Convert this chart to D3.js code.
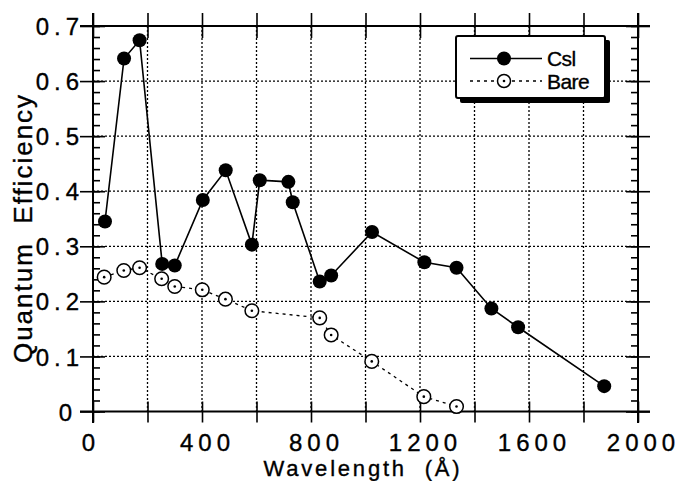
<!DOCTYPE html>
<html><head><meta charset="utf-8">
<script src="https://cdn.jsdelivr.net/npm/d3@7"></script>
<style>
html,body{margin:0;padding:0;background:#fff;}
svg text{font-family:"Liberation Sans",Arial,Helvetica,sans-serif;fill:#000;stroke:#000;stroke-width:0.35px;}
</style></head>
<body><svg id="c" width="679" height="481"></svg>
<script>
const csiWave = [44,114,171,254,300,403,487,583,612,717,733,832,874,1024,1216,1334,1462,1560,1876];
const csiQE   = [0.345,0.641,0.674,0.268,0.265,0.384,0.438,0.303,0.420,0.417,0.380,0.236,0.247,0.326,0.271,0.261,0.187,0.153,0.046];
const bareWave = [41,113,171,252,300,401,486,583,832,874,1023,1214,1334];
const bareQE   = [0.244,0.256,0.261,0.241,0.227,0.221,0.204,0.183,0.170,0.139,0.091,0.027,0.009];
const xTickLabels = [0,400,800,1200,1600,2000];
const xMajorTicks = [0,200,400,600,800,1000,1200,1400,1600,1800,2000];
const yTickLabels = [0,0.1,0.2,0.3,0.4,0.5,0.6,0.7];
const seriesNames = ["Csl","Bare"];

const svg = d3.select("#c");
const L=93,R=638,T=26,B=411.5;
const x = d3.scaleLinear().domain([0,2000]).range([L,R]);
const y = d3.scaleLinear().domain([0,0.7]).range([B,T]);

// gridlines
const grid = svg.append("g").attr("stroke","#000").attr("stroke-width",1.3).attr("stroke-dasharray","2,2");
xMajorTicks.filter(v=>v>0&&v<2000).forEach(v=>{
  grid.append("line").attr("x1",x(v)).attr("x2",x(v)).attr("y1",T).attr("y2",B);
});
yTickLabels.filter(v=>v>0&&v<0.7).forEach(v=>{
  grid.append("line").attr("x1",L).attr("x2",R).attr("y1",y(v)).attr("y2",y(v));
});

const minorY = d3.range(0,0.7001,0.02);
function styleAxis(g){
  g.select(".domain").remove();
  g.selectAll("line").attr("stroke","#000").attr("stroke-width",1.6);
}
// left axis
svg.append("g").attr("transform",`translate(${L},0)`)
  .call(d3.axisLeft(y).tickValues(yTickLabels).tickSize(13).tickPadding(2).tickFormat(d=>d===0?"0":d3.format(".1f")(d)))
  .call(g=>{styleAxis(g);
    g.selectAll(".tick line").attr("x2",-13).attr("x1",12);
    g.selectAll("text").attr("font-size",24).attr("letter-spacing",5).attr("x",d=>d===0?-16:-9).attr("fill","#000").attr("dy","0.36em");
  });
svg.append("g").attr("transform",`translate(${L},0)`)
  .call(d3.axisRight(y).tickValues(minorY).tickSize(7).tickFormat(""))
  .call(styleAxis);
// right axis
svg.append("g").attr("transform",`translate(${R},0)`)
  .call(d3.axisRight(y).tickValues(yTickLabels).tickSize(12).tickFormat(""))
  .call(g=>{styleAxis(g); g.selectAll(".tick line").attr("x1",-12);});
svg.append("g").attr("transform",`translate(${R},0)`)
  .call(d3.axisLeft(y).tickValues(minorY).tickSize(7).tickFormat(""))
  .call(styleAxis);
// bottom axis
svg.append("g").attr("transform",`translate(0,${B})`)
  .call(d3.axisBottom(x).tickValues(xMajorTicks).tickSize(11).tickFormat(""))
  .call(g=>{styleAxis(g); g.selectAll(".tick line").attr("y1",-10);});
svg.append("g").attr("transform",`translate(0,${B})`)
  .call(d3.axisBottom(x).tickValues(xTickLabels).tickSize(0).tickPadding(22.5).tickFormat(d3.format("d")))
  .call(g=>{g.select(".domain").remove();
    g.selectAll("text").attr("font-size",24).attr("letter-spacing",5).attr("dx",d=>d===0?"-2.5":"5").attr("fill","#000");
  });
// top axis
svg.append("g").attr("transform",`translate(0,${T})`)
  .call(d3.axisTop(x).tickValues(xMajorTicks).tickSize(13).tickFormat(""))
  .call(g=>{styleAxis(g); g.selectAll(".tick line").attr("y1",12);});

// frame lines
const fr = svg.append("g").attr("stroke","#000").attr("stroke-width",2);
fr.append("line").attr("x1",80).attr("x2",650).attr("y1",T).attr("y2",T);
fr.append("line").attr("x1",80).attr("x2",650).attr("y1",B).attr("y2",B);
fr.append("line").attr("x1",L).attr("x2",L).attr("y1",13).attr("y2",423);
fr.append("line").attr("x1",R).attr("x2",R).attr("y1",13).attr("y2",423);

// axis titles
svg.append("text").attr("transform","translate(32,228) rotate(-90)")
  .attr("text-anchor","middle").attr("font-size",26).attr("letter-spacing",2)
  .style("white-space","pre").text("Quantum  Efficiency");
svg.append("text").attr("x",363).attr("y",475.5).attr("text-anchor","middle")
  .attr("font-size",22).attr("letter-spacing",2.8).style("white-space","pre").text("Wavelength  (Å)");

// series
const csi = csiWave.map((w,i)=>[w,csiQE[i]]);
const bare = bareWave.map((w,i)=>[w,bareQE[i]]);
const line = d3.line().x(d=>x(d[0])).y(d=>y(d[1]));
svg.append("path").datum(bare).attr("d",line).attr("fill","none").attr("stroke","#000").attr("stroke-width",1.3).attr("stroke-dasharray","3,4");
svg.append("path").datum(csi).attr("d",line).attr("fill","none").attr("stroke","#000").attr("stroke-width",1.6);
const bg = svg.append("g").selectAll("g").data(bare).join("g").attr("transform",d=>`translate(${x(d[0])},${y(d[1])})`);
bg.append("circle").attr("r",6.8).attr("fill","#fff").attr("stroke","#000").attr("stroke-width",1.5);
bg.append("circle").attr("r",1.3).attr("fill","#000");
svg.append("g").selectAll("circle").data(csi).join("circle")
  .attr("cx",d=>x(d[0])).attr("cy",d=>y(d[1])).attr("r",7).attr("fill","#000");

// legend
const lg = svg.append("g");
lg.append("rect").attr("x",460).attr("y",40).attr("width",150).attr("height",63).attr("fill","#000").attr("rx",2);
lg.append("rect").attr("x",456).attr("y",36).attr("width",149).attr("height",62).attr("fill","#fff").attr("stroke","#000").attr("stroke-width",2).attr("rx",2);
const rows=[{name:seriesNames[0],yy:58.5,dash:null,filled:true},{name:seriesNames[1],yy:81,dash:"3,4",filled:false}];
rows.forEach(r=>{
  lg.append("line").attr("x1",470).attr("x2",542).attr("y1",r.yy).attr("y2",r.yy).attr("stroke","#000").attr("stroke-width",1.5).attr("stroke-dasharray",r.dash);
  if(r.filled){lg.append("circle").attr("cx",504).attr("cy",r.yy).attr("r",7).attr("fill","#000");}
  else{lg.append("circle").attr("cx",504).attr("cy",r.yy).attr("r",6.5).attr("fill","#fff").attr("stroke","#000").attr("stroke-width",1.5);
       lg.append("circle").attr("cx",504).attr("cy",r.yy).attr("r",1.3).attr("fill","#000");}
  lg.append("text").attr("x",547).attr("y",r.yy+7.5).attr("font-size",21).attr("letter-spacing",-0.6).text(r.name);
});
</script></body></html>
